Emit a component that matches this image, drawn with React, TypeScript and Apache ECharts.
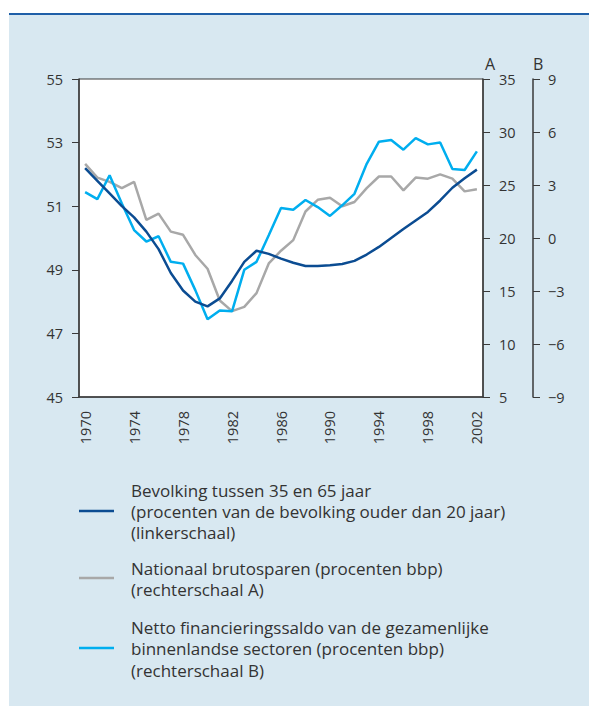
import React, { useEffect, useRef } from "react";
import * as echarts from "echarts";

const years = [
  "1970", "1971", "1972", "1973", "1974", "1975", "1976", "1977", "1978", "1979",
  "1980", "1981", "1982", "1983", "1984", "1985", "1986", "1987", "1988", "1989",
  "1990", "1991", "1992", "1993", "1994", "1995", "1996", "1997", "1998", "1999",
  "2000", "2001", "2002",
];

// Bevolking tussen 35 en 65 jaar (linkerschaal)
const population = [
  52.2, 51.8, 51.4, 51.0, 50.65, 50.2, 49.65, 48.9, 48.35, 48.0,
  47.85, 48.1, 48.65, 49.25, 49.6, 49.5, 49.35, 49.22, 49.12, 49.12,
  49.14, 49.18, 49.28, 49.48, 49.72, 50.0, 50.28, 50.55, 50.82, 51.18,
  51.58, 51.88, 52.15,
];

// Nationaal brutosparen (rechterschaal A)
const grossSaving = [
  27.0, 25.7, 25.3, 24.7, 25.3, 21.7, 22.3, 20.6, 20.3, 18.4,
  17.1, 14.1, 13.1, 13.5, 14.8, 17.6, 18.8, 19.8, 22.5, 23.6,
  23.8, 23.0, 23.4, 24.7, 25.8, 25.8, 24.5, 25.7, 25.6, 26.0,
  25.6, 24.4, 24.6,
];

// Netto financieringssaldo (rechterschaal B)
const netLending = [
  2.6, 2.2, 3.55, 1.95, 0.45, -0.2, 0.1, -1.35, -1.45, -2.95,
  -4.6, -4.1, -4.15, -1.8, -1.35, 0.15, 1.7, 1.6, 2.15, 1.75,
  1.25, 1.85, 2.5, 4.2, 5.45, 5.55, 5.0, 5.65, 5.3, 5.4,
  3.9, 3.85, 4.9,
];

const seriesNames = [
  "Bevolking tussen 35 en 65 jaar",
  "Nationaal brutosparen",
  "Netto financieringssaldo",
];

const legendLines = [
  [
    "Bevolking tussen 35 en 65 jaar",
    "(procenten van de bevolking ouder dan 20 jaar)",
    "(linkerschaal)",
  ],
  ["Nationaal brutosparen (procenten bbp)", "(rechterschaal A)"],
  [
    "Netto financieringssaldo van de gezamenlijke",
    "binnenlandse sectoren (procenten bbp)",
    "(rechterschaal B)",
  ],
];

const COLORS = ["#0b4c92", "#a8a8a8", "#00aeef"];
const FONT = "Open Sans";
const TEXT = "#333333";
const AXIS = "#3a3a3a";

export default function App() {
  const ref = useRef<HTMLDivElement>(null);

  useEffect(() => {
    if (!ref.current) return;
    const chart = echarts.init(ref.current, null, { renderer: "svg" });

    const legendLayout = [
      { markY: 511, textYs: [490, 511, 532] },
      { markY: 578, textYs: [568.5, 589.5] },
      { markY: 648, textYs: [627, 648.5, 670] },
    ];

    const graphics: any[] = [];
    legendLayout.forEach((l, i) => {
      graphics.push({
        type: "line",
        shape: { x1: 79, y1: l.markY, x2: 114, y2: l.markY },
        style: { stroke: COLORS[i], lineWidth: 2.5 },
      });
      legendLines[i].forEach((t, j) => {
        graphics.push({
          type: "text",
          x: 131,
          y: l.textYs[j],
          style: {
            text: t,
            fill: TEXT,
            font: `17px "${FONT}"`,
            lineHeight: 18,
            verticalAlign: "middle",
            align: "left",
          },
        });
      });
    });

    const axisLabel = { color: TEXT, fontFamily: FONT, fontSize: 14.5 };
    const minus = (v: number) => String(v).replace("-", "\u2212");

    chart.setOption({
      animation: false,
      backgroundColor: "transparent",
      textStyle: { fontFamily: FONT },
      grid: {
        left: 79,
        top: 79,
        width: 404,
        height: 318,
        show: true,
        backgroundColor: "#ffffff",
        borderColor: AXIS,
        borderWidth: 1,
      },
      xAxis: {
        type: "category",
        data: years,
        boundaryGap: true,
        axisLine: { onZero: false, lineStyle: { color: AXIS, width: 1.5 } },
        axisTick: {
          inside: true,
          length: 5,
          interval: 0,
          lineStyle: { color: AXIS, width: 1 },
        },
        axisLabel: { ...axisLabel, rotate: 90, interval: 3, margin: 14 },
        splitLine: { show: false },
      },
      yAxis: [
        {
          type: "value",
          position: "left",
          min: 45,
          max: 55,
          interval: 2,
          axisLine: { show: true, lineStyle: { color: AXIS, width: 1.5 } },
          axisTick: { show: true, length: 7, lineStyle: { color: AXIS } },
          axisLabel: { ...axisLabel, margin: 16 },
          splitLine: { show: false },
        },
        {
          type: "value",
          position: "right",
          offset: 0,
          min: 5,
          max: 35,
          interval: 5,
          name: "A",
          nameLocation: "end",
          nameGap: 4,
          nameTextStyle: { color: TEXT, fontFamily: FONT, fontSize: 16, align: "left", padding: [0, 0, 0, 2] },
          axisLine: { show: true, lineStyle: { color: AXIS, width: 1.5 } },
          axisTick: { show: true, length: 7, lineStyle: { color: AXIS } },
          axisLabel: { ...axisLabel, margin: 16 },
          splitLine: { show: false },
        },
        {
          type: "value",
          position: "right",
          offset: 50,
          min: -9,
          max: 9,
          interval: 3,
          name: "B",
          nameLocation: "end",
          nameGap: 4,
          nameTextStyle: { color: TEXT, fontFamily: FONT, fontSize: 16, align: "left" },
          axisLine: { show: true, lineStyle: { color: AXIS, width: 1.5 } },
          axisTick: { show: true, length: 7, lineStyle: { color: AXIS } },
          axisLabel: { ...axisLabel, margin: 15, formatter: minus },
          splitLine: { show: false },
        },
      ],
      series: [
        {
          name: seriesNames[0],
          type: "line",
          yAxisIndex: 0,
          data: population,
          symbol: "none",
          lineStyle: { color: COLORS[0], width: 2.5 },
          z: 3,
        },
        {
          name: seriesNames[1],
          type: "line",
          yAxisIndex: 1,
          data: grossSaving,
          symbol: "none",
          lineStyle: { color: COLORS[1], width: 2.5 },
          z: 1,
        },
        {
          name: seriesNames[2],
          type: "line",
          yAxisIndex: 2,
          data: netLending,
          symbol: "none",
          lineStyle: { color: COLORS[2], width: 2.5 },
          z: 2,
        },
      ],
      graphic: graphics,
    });

    return () => chart.dispose();
  }, []);

  return (
    <div style={{ position: "absolute", left: 0, top: 0, width: 589, height: 706, background: "#ffffff" }}>
      <div
        style={{
          position: "absolute",
          left: 9,
          top: 13,
          width: 580,
          height: 693,
          background: "#d8e8f1",
        }}
      />
      <div
        style={{
          position: "absolute",
          left: 9,
          top: 13,
          width: 580,
          height: 2,
          background: "#1f5fa8",
        }}
      />
      <div ref={ref} style={{ position: "absolute", left: 0, top: 0, width: 589, height: 706 }} />
    </div>
  );
}
